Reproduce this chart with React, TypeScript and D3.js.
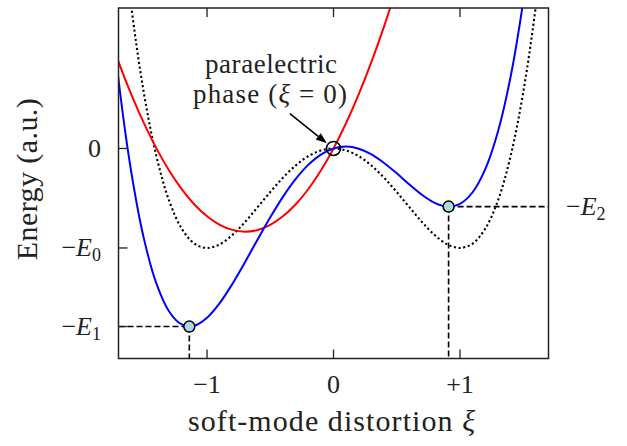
import React from "react";
import * as d3 from "d3";

// ---- data ----
const xiGrid = [
  -1.8, -1.7, -1.6, -1.5, -1.4, -1.3, -1.2, -1.1, -1.0, -0.9, -0.8, -0.7, -0.6,
  -0.5, -0.4, -0.3, -0.2, -0.1, 0, 0.1, 0.2, 0.3, 0.4, 0.5, 0.6, 0.7, 0.8, 0.9,
  1.0, 1.1, 1.2, 1.3, 1.4, 1.5, 1.6, 1.7, 1.8,
];
const dottedE = [
  4.018, 2.572, 1.434, 0.563, -0.078, -0.524, -0.806, -0.956, -1, -0.964, -0.87,
  -0.74, -0.59, -0.438, -0.294, -0.172, -0.078, -0.02, 0, -0.02, -0.078, -0.172,
  -0.294, -0.438, -0.59, -0.74, -0.87, -0.964, -1, -0.956, -0.806, -0.524, -0.078,
  0.563, 1.434, 2.572, 4.018,
];
const blueE = [
  1.902, 0.693, -0.229, -0.901, -1.359, -1.638, -1.769, -1.782, -1.702, -1.555,
  -1.362, -1.143, -0.915, -0.692, -0.486, -0.308, -0.165, -0.061, 0, 0.019,
  -0.003, -0.06, -0.146, -0.25, -0.362, -0.466, -0.546, -0.584, -0.556, -0.44,
  -0.208, 0.168, 0.718, 1.478, 2.483, 3.771, 5.383,
];
const redE = [
  1.229, 0.87, 0.546, 0.257, 0.001, -0.221, -0.409, -0.563, -0.682, -0.767,
  -0.818, -0.836, -0.819, -0.768, -0.682, -0.563, -0.41, -0.222, 0, 0.256, 0.546,
  0.87, 1.228, 1.621, 2.047, 2.508, 3.002,
];
const minimaXi = [-1.14, 0.91];
const minimaE = [-1.79, -0.584];
const xTicks = [-1, 0, 1];
const xTickLabels = ["\u22121", "0", "+1"];
const yTicks = [0, -1, -1.79];
const yTickSubs = ["", "0", "1"]; // "" => plain 0 label
const e2Value = -0.584;

// ---- layout ----
const W = 627;
const H = 446;
const L = 118.5;
const R = 548.5;
const T = 8;
const B = 358.5;
const FONT = "'Liberation Serif', 'Times New Roman', serif";
const TXT = "#222";

export default function App() {
  const x = d3.scaleLinear().domain([-1.7, 1.7]).range([L, R]);
  const y = d3.scaleLinear().domain([-2.111, 1.412]).range([B, T]);

  const line = (vals: number[]) =>
    d3
      .line<number>()
      .x((_, i) => x(xiGrid[i]))
      .y((v) => y(v))
      .curve(d3.curveCatmullRom.alpha(0.5))(vals) || "";

  const tickLen = 9;
  // annotation arrow in data coordinates
  const tail = { xi: -0.345, e: 0.35 };
  const cx = x(0);
  const cy = y(0);
  const tx = x(tail.xi);
  const ty = y(tail.e);
  const dx = cx - tx;
  const dy = cy - ty;
  const len = Math.hypot(dx, dy);
  const ux = dx / len;
  const uy = dy / len;
  const circR = 7;
  const hx = cx - ux * (circR + 1.5);
  const hy = cy - uy * (circR + 1.5);
  const ah = 11;
  const aw = 4;
  const bx = hx - ux * ah;
  const by = hy - uy * ah;
  const arrowHead = `M${hx},${hy}L${bx - uy * aw},${by + ux * aw}L${bx + uy * aw},${by - ux * aw}Z`;

  return (
    <svg
      width={W}
      height={H}
      style={{ position: "absolute", left: 0, top: 0, background: "#fff" }}
      fontFamily={FONT}
    >
      <defs>
        <clipPath id="plotClip">
          <rect x={L} y={T} width={R - L} height={B - T} />
        </clipPath>
      </defs>

      <g clipPath="url(#plotClip)">
        <path
          d={line(dottedE)}
          fill="none"
          stroke="#000"
          strokeWidth={2.1}
          strokeDasharray="2.1,2.6"
        />
        <path d={line(redE)} fill="none" stroke="#ff0000" strokeWidth={2} />
        <path d={line(blueE)} fill="none" stroke="#0000ff" strokeWidth={2} />
      </g>

      {/* dashed guide lines */}
      <g stroke="#000" strokeWidth={1.6} strokeDasharray="6,3" fill="none">
        <line x1={L} x2={x(minimaXi[0])} y1={y(minimaE[0])} y2={y(minimaE[0])} />
        <line x1={x(minimaXi[0])} x2={x(minimaXi[0])} y1={y(minimaE[0])} y2={B} />
        <line x1={x(minimaXi[1])} x2={R} y1={y(minimaE[1])} y2={y(minimaE[1])} />
        <line x1={x(minimaXi[1])} x2={x(minimaXi[1])} y1={y(minimaE[1])} y2={B} />
      </g>

      {/* minima markers */}
      {minimaXi.map((m, i) => (
        <circle
          key={i}
          cx={x(m)}
          cy={y(minimaE[i])}
          r={5.5}
          fill="#add8e6"
          stroke="#000"
          strokeWidth={1.5}
        />
      ))}

      {/* paraelectric point */}
      <circle cx={cx} cy={cy} r={circR} fill="none" stroke="#000" strokeWidth={1.6} />
      <line x1={tx} y1={ty} x2={bx} y2={by} stroke="#000" strokeWidth={1.6} />
      <path d={arrowHead} fill="#000" />

      {/* frame */}
      <rect x={L} y={T} width={R - L} height={B - T} fill="none" stroke="#222" strokeWidth={1.5} />

      {/* ticks */}
      <g stroke="#222" strokeWidth={1.3}>
        {xTicks.map((t) => (
          <g key={"xt" + t}>
            <line x1={x(t)} x2={x(t)} y1={B} y2={B - tickLen} />
            <line x1={x(t)} x2={x(t)} y1={T} y2={T + tickLen} />
          </g>
        ))}
        {yTicks.map((t) => (
          <line key={"yt" + t} x1={L} x2={L + tickLen} y1={y(t)} y2={y(t)} />
        ))}
      </g>

      {/* x tick labels */}
      {xTicks.map((t, i) => (
        <text key={"xl" + t} x={x(t)} y={393} textAnchor="middle" fontSize={26} fill={TXT}>
          {xTickLabels[i]}
        </text>
      ))}

      {/* y tick labels */}
      {yTicks.map((t, i) =>
        yTickSubs[i] === "" ? (
          <text key={"yl" + t} x={101} y={y(t) + 8.5} textAnchor="end" fontSize={26} fill={TXT}>
            0
          </text>
        ) : (
          <text key={"yl" + t} x={101} y={y(t) + 8.5} textAnchor="end" fontSize={26} fill={TXT}>
            {"\u2212"}
            <tspan fontStyle="italic">E</tspan>
            <tspan fontSize={18} dy={5}>
              {yTickSubs[i]}
            </tspan>
          </text>
        )
      )}

      {/* -E2 label on right */}
      <text x={566} y={y(e2Value) + 8.5} fontSize={26} fill={TXT}>
        {"\u2212"}
        <tspan fontStyle="italic">E</tspan>
        <tspan fontSize={18} dy={5}>
          2
        </tspan>
      </text>

      {/* annotation */}
      <text x={271} y={73} textAnchor="middle" fontSize={27} fill={TXT} textLength={132} lengthAdjust="spacing">
        paraelectric
      </text>
      <text x={270} y={103} textAnchor="middle" fontSize={27} fill={TXT} textLength={154} lengthAdjust="spacing">
        {"phase ("}
        <tspan fontStyle="italic">ξ</tspan>
        {" = 0)"}
      </text>

      {/* axis titles */}
      <text x={331.5} y={431} textAnchor="middle" fontSize={30} fill={TXT} textLength={287} lengthAdjust="spacing">
        {"soft-mode distortion "}
        <tspan fontStyle="italic">ξ</tspan>
      </text>
      <text
        transform={`translate(37,${(T + B) / 2 - 4}) rotate(-90)`}
        textAnchor="middle"
        fontSize={30}
        fill={TXT}
        textLength={162}
        lengthAdjust="spacing"
      >
        Energy (a.u.)
      </text>
    </svg>
  );
}
